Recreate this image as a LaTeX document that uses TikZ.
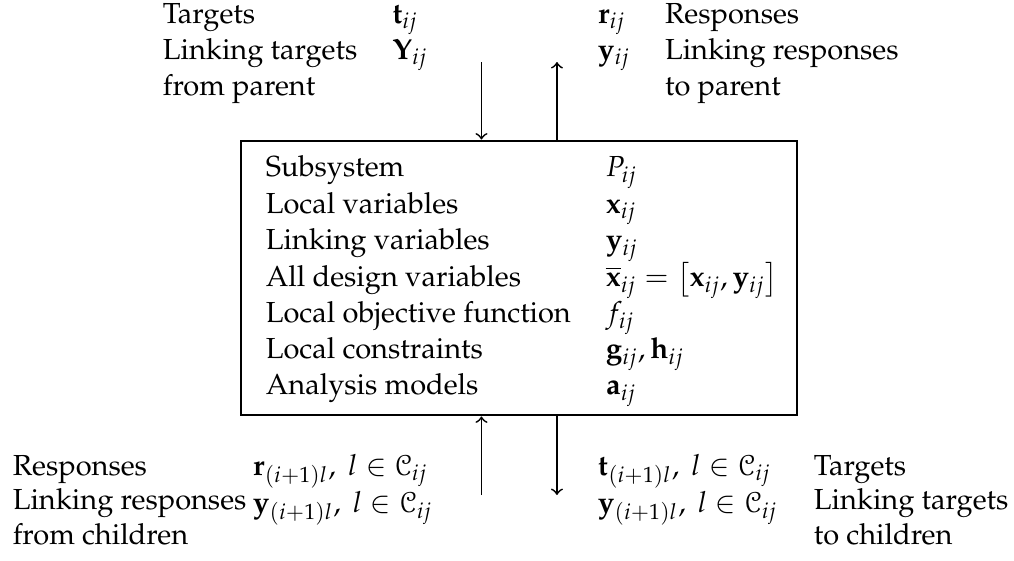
\documentclass[tikz,border=0pt]{standalone}
\usepackage[T1]{fontenc}
\usepackage{mathpazo}       % Palatino 正文与数学
\usepackage[mathcal]{eucal} % 花体 C
\usepackage{amsmath}
\usetikzlibrary{
  calc,       % 坐标计算
  positioning % 节点相对定位
}

\begin{document}
\begin{tikzpicture}[line width=0.6pt] % 整体思路：中间一个子系统方框，上下各两支箭头，四角写出传入传出的量

  \useasboundingbox (0,0) rectangle (12.289,6.787); % 固定画面大小与留白

  % ======= 子系统方框 =======
  \node[draw, line width=1pt, minimum width=6.738cm, minimum height=3.321cm, inner sep=0pt] (box) at (6.290,3.418) {}; % 方框外轮廓
  \node[anchor=base west, inner sep=0pt] (boxtext) at (3.212,4.642) {%
    \begin{tabular}[t]{@{}ll@{}}
      Subsystem & $P_{ij}$ \\
      Local variables & $\mathbf{x}_{ij}$ \\
      Linking variables & $\mathbf{y}_{ij}$ \\
      All design variables & $\overline{\mathbf{x}}_{ij} = \bigl[\mathbf{x}_{ij}, \mathbf{y}_{ij}\bigr]$ \\
      Local objective function & $f_{ij}$ \\
      Local constraints & $\mathbf{g}_{ij}, \mathbf{h}_{ij}$ \\
      Analysis models & $\mathbf{a}_{ij}$
    \end{tabular}}; % 方框内的两列说明

  % ======= 与父层的联系 =======
  \node[anchor=base west, inner sep=0pt] (fromparent) at (1.963,6.508) {%
    \begin{tabular}[t]{@{}ll@{}}
      Targets & $\mathbf{t}_{ij}$ \\
      Linking targets & $\mathbf{Y}_{ij}$ \\
      from parent &
    \end{tabular}}; % 左上：来自父层的目标
  \node[anchor=base west, inner sep=0pt] (toparent) at (7.235,6.508) {%
    \begin{tabular}[t]{@{}ll@{}}
      $\mathbf{r}_{ij}$ & Responses \\
      $\mathbf{y}_{ij}$ & Linking responses \\
      & to parent
    \end{tabular}}; % 右上：传给父层的响应

  \coordinate (pin) at (5.835,6.035);  % 向下箭头起点
  \coordinate (pout) at (6.750,6.035); % 向上箭头终点
  \draw[->] (pin) -- (pin |- box.north);   % 父层目标传入
  \draw[->] (pout |- box.north) -- (pout); % 响应传回父层

  % ======= 与子层的联系 =======
  \node[anchor=base west, inner sep=0pt] (fromchildlbl) at (0.145,1.030) {%
    \begin{tabular}[t]{@{}l@{}}
      Responses \\
      Linking responses \\
      from children
    \end{tabular}}; % 左下文字
  \node[anchor=base west, inner sep=0pt] (fromchildsym) at (3.054,1.030) {%
    \begin{tabular}[t]{@{}l@{}}
      $\mathbf{r}_{(i+1)l},\ l \in \mathcal{C}_{ij}$ \\
      $\mathbf{y}_{(i+1)l},\ l \in \mathcal{C}_{ij}$
    \end{tabular}}; % 左下符号
  \node[anchor=base west, inner sep=0pt] (tochildsym) at (7.235,1.030) {%
    \begin{tabular}[t]{@{}l@{}}
      $\mathbf{t}_{(i+1)l},\ l \in \mathcal{C}_{ij}$ \\
      $\mathbf{y}_{(i+1)l},\ l \in \mathcal{C}_{ij}$
    \end{tabular}}; % 右下符号
  \node[anchor=base west, inner sep=0pt] (tochildlbl) at (9.853,1.030) {%
    \begin{tabular}[t]{@{}l@{}}
      Targets \\
      Linking targets \\
      to children
    \end{tabular}}; % 右下文字

  \coordinate (cin) at (5.835,0.788);  % 向上箭头起点
  \coordinate (cout) at (6.750,0.788); % 向下箭头终点
  \draw[->] (cin) -- (cin |- box.south);   % 子层响应传入
  \draw[->] (cout |- box.south) -- (cout); % 目标传给子层

\end{tikzpicture}
\end{document}
